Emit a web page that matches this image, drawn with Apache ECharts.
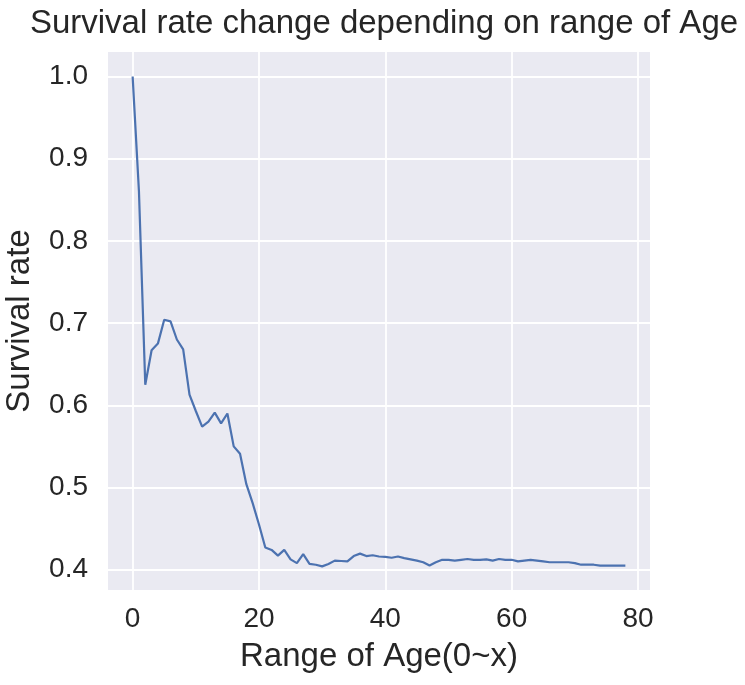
<!DOCTYPE html>
<html>
<head>
<meta charset="utf-8">
<script src="https://cdn.jsdelivr.net/npm/echarts@6/dist/echarts.min.js"></script>
<style>
  html, body { margin: 0; padding: 0; background: #ffffff; }
  #chart { width: 745px; height: 685px; }
</style>
</head>
<body>
<div id="chart"></div>
<script>
// Age threshold x (0..78): survival rate of passengers with Age < x
const ages = [];
for (let a = 0; a <= 78; a++) ages.push(a);
const survivalRate = [
  1.000, 0.860, 0.625, 0.667, 0.675, 0.704, 0.702, 0.680, 0.668, 0.613,
  0.593, 0.574, 0.580, 0.591, 0.578, 0.590, 0.550, 0.541, 0.504, 0.481,
  0.455, 0.427, 0.424, 0.417, 0.424, 0.4125, 0.408, 0.419, 0.407, 0.406,
  0.404, 0.407, 0.411, 0.4105, 0.410, 0.4165, 0.4195, 0.4165, 0.4175, 0.416,
  0.4155, 0.4145, 0.416, 0.414, 0.4125, 0.411, 0.409, 0.405, 0.409, 0.412,
  0.412, 0.411, 0.412, 0.413, 0.412, 0.412, 0.4125, 0.411, 0.413, 0.412,
  0.412, 0.410, 0.411, 0.412, 0.411, 0.410, 0.409, 0.409, 0.409, 0.409,
  0.408, 0.406, 0.406, 0.406, 0.405, 0.405, 0.405, 0.405, 0.405
];
const xTicks = [0, 20, 40, 60, 80];
const yTicks = [0.4, 0.5, 0.6, 0.7, 0.8, 0.9, 1.0];
const titleText = 'Survival rate change depending on range of Age';
const xName = 'Range of Age(0~x)';
const yName = 'Survival rate';

const FONT = '"Liberation Sans", Arial, sans-serif';
const TXT = '#262626';

const chart = echarts.init(document.getElementById('chart'), null, { renderer: 'canvas' });
chart.setOption({
  animation: false,
  backgroundColor: '#ffffff',
  title: {
    text: titleText,
    left: 379,
    textAlign: 'center',
    top: 2,
    textStyle: { fontFamily: FONT, fontSize: 33, fontWeight: 'normal', color: TXT }
  },
  grid: {
    left: 108, right: 95, top: 52, bottom: 95,
    outerBoundsMode: 'none',
    containLabel: false,
    show: true, backgroundColor: '#EAEAF2', borderWidth: 0
  },
  xAxis: {
    type: 'value',
    min: -3.9, max: 81.9,
    name: xName,
    nameLocation: 'middle',
    nameGap: 50,
    nameTextStyle: { fontFamily: FONT, fontSize: 33, color: TXT },
    axisLine: { show: false },
    axisTick: { show: false, customValues: xTicks },
    axisLabel: { customValues: xTicks, fontFamily: FONT, fontSize: 28, color: TXT, margin: 15 },
    splitLine: { show: true, lineStyle: { color: '#ffffff', width: 1.8 } }
  },
  yAxis: {
    type: 'value',
    min: 0.37525, max: 1.02975,
    name: yName,
    nameLocation: 'middle',
    nameGap: 72,
    nameTextStyle: { fontFamily: FONT, fontSize: 33, color: TXT },
    axisLine: { show: false },
    axisTick: { show: false, customValues: yTicks },
    axisLabel: { customValues: yTicks, fontFamily: FONT, fontSize: 28, color: TXT, margin: 20,
      formatter: v => v.toFixed(1) },
    splitLine: { show: true, lineStyle: { color: '#ffffff', width: 1.8 } }
  },
  series: [{
    type: 'line',
    data: ages.map((a, i) => [a, survivalRate[i]]),
    showSymbol: false,
    symbol: 'none',
    lineStyle: { color: '#4C72B0', width: 2.2 },
    itemStyle: { color: '#4C72B0' }
  }]
});
</script>
</body>
</html>
